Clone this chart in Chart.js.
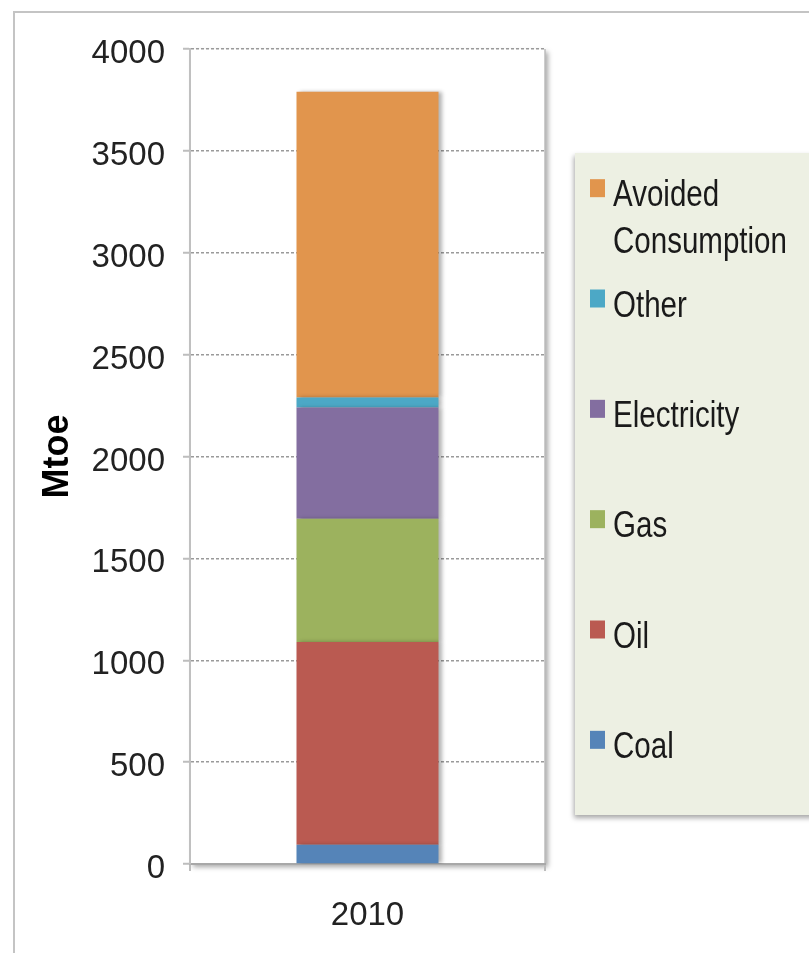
<!DOCTYPE html>
<html lang="en">
<head>
    <meta charset="UTF-8">
    <title>Mtoe 2010</title>
    <script src="https://cdn.jsdelivr.net/npm/chart.js"></script>
    <style>
        body { margin: 0; background: #fff; }
        #wrap { width: 809px; height: 953px; }
    </style>
</head>
<body>
    <div id="wrap"><canvas id="chart" width="809" height="953"></canvas></div>

    <script>
        // data (Mtoe)
        const categories = ['2010'];
        const seriesNames = ['Coal', 'Oil', 'Gas', 'Electricity', 'Other', 'Avoided Consumption'];
        const coal = [95];
        const oil = [995];
        const gas = [605];
        const electricity = [545];
        const other = [50];
        const avoided = [1500];
        const yTicks = [0, 500, 1000, 1500, 2000, 2500, 3000, 3500, 4000];

        const seriesValues = [coal, oil, gas, electricity, other, avoided];
        const seriesColors = ['#5584B8', '#BA5A51', '#9CB25E', '#836EA0', '#4CA8C6', '#E1954D'];

        const FONT = "'Liberation Sans', Arial, sans-serif";
        const NARROW = 0.82; // squeeze to look like a narrow face

        const frame = {
            id: 'frame',
            beforeDraw(chart) {
                const c = chart.ctx, a = chart.chartArea;
                c.save();
                c.fillStyle = '#fff';
                c.fillRect(0, 0, chart.width, chart.height);
                c.strokeStyle = '#c4c4c4';
                c.lineWidth = 2;
                c.strokeRect(14, 12, 900, 1000);
                // plot area with its shadow
                c.shadowColor = 'rgba(0,0,0,0.35)';
                c.shadowBlur = 5;
                c.shadowOffsetX = 3;
                c.shadowOffsetY = 3;
                c.fillStyle = '#fff';
                c.fillRect(a.left, a.top, a.right - a.left, a.bottom - a.top);
                c.restore();
                c.save();
                c.strokeStyle = '#bdbdbd';
                c.lineWidth = 1.5;
                c.beginPath();
                c.moveTo(a.right, a.top);
                c.lineTo(a.right, a.bottom);
                c.stroke();
                c.restore();
            },
            beforeDatasetsDraw(chart) {
                const c = chart.ctx;
                c.save();
                c.shadowColor = 'rgba(0,0,0,0.3)';
                c.shadowBlur = 4;
                c.shadowOffsetX = 3;
                c.shadowOffsetY = 0;
            },
            afterDatasetsDraw(chart) {
                chart.ctx.restore();
            }
        };

        // excel-like legend box on the right, items top-down in reverse order
        const sideLegend = {
            id: 'sideLegend',
            afterDraw(chart) {
                const c = chart.ctx;
                const boxX = 575, boxY = 153, boxH = 662;
                c.save();
                c.shadowColor = 'rgba(0,0,0,0.35)';
                c.shadowBlur = 5;
                c.shadowOffsetX = -1;
                c.shadowOffsetY = 3;
                c.fillStyle = '#EDF0E3';
                c.fillRect(boxX, boxY, 300, boxH);
                c.restore();

                const sets = chart.data.datasets.slice().reverse();
                const slot = boxH / sets.length;
                const textX = 613, maxW = chart.width - textX - 4;
                c.save();
                c.font = '36px ' + FONT;
                c.textBaseline = 'alphabetic';
                c.textAlign = 'left';
                sets.forEach((ds, k) => {
                    // wrap label to box width
                    const lines = [];
                    let cur = '';
                    ds.label.split(' ').forEach(w => {
                        const t = cur ? cur + ' ' + w : w;
                        if (cur && c.measureText(t).width * NARROW > maxW) { lines.push(cur); cur = w; }
                        else cur = t;
                    });
                    lines.push(cur);
                    const base = boxY + slot * (k + 0.5) - 2;
                    c.fillStyle = ds.backgroundColor;
                    c.fillRect(590, base - 27, 15, 18);
                    c.fillStyle = '#1a1a1a';
                    c.save();
                    c.scale(NARROW, 1);
                    lines.forEach((ln, i) => c.fillText(ln, textX / NARROW, base + i * 47));
                    c.restore();
                });
                c.restore();
            }
        };

        const chart = new Chart(document.getElementById('chart').getContext('2d'), {
            type: 'bar',
            data: {
                labels: categories,
                datasets: seriesNames.map((name, i) => ({
                    label: name,
                    data: seriesValues[i],
                    backgroundColor: seriesColors[i],
                    borderWidth: 0,
                    barPercentage: 0.4,
                    categoryPercentage: 1
                }))
            },
            options: {
                responsive: false,
                animation: false,
                layout: { padding: { left: 36, top: 49, right: 264, bottom: 4 } },
                plugins: {
                    legend: { display: false },
                    tooltip: { enabled: false }
                },
                scales: {
                    x: {
                        stacked: true,
                        afterFit(s) { s.height = 85; },
                        grid: { drawOnChartArea: false, drawTicks: true, tickLength: 7, color: '#bdbdbd', lineWidth: 2 },
                        border: { color: '#a8a8a8', width: 2 },
                        ticks: { color: '#222', padding: 25, font: { family: FONT, size: 33 } }
                    },
                    y: {
                        stacked: true,
                        min: 0,
                        max: 4000,
                        afterFit(s) { s.width = 154; },
                        afterBuildTicks(s) { s.ticks = yTicks.map(v => ({ value: v })); },
                        grid: { color: '#9a9a9a', lineWidth: 1.5, tickLength: 7, tickColor: '#bdbdbd', tickWidth: 2 },
                        border: { color: '#c0c0c0', width: 2, dash: [3, 2] },
                        ticks: {
                            color: '#222',
                            padding: 18,
                            labelOffset: 5,
                            font: { family: FONT, size: 33 },
                            callback: v => String(v)
                        },
                        title: {
                            display: true,
                            text: 'Mtoe',
                            color: '#000',
                            padding: 0,
                            font: { family: FONT, size: 36, weight: 'bold' }
                        }
                    }
                }
            },
            plugins: [frame, sideLegend]
        });
    </script>
</body>
</html>
